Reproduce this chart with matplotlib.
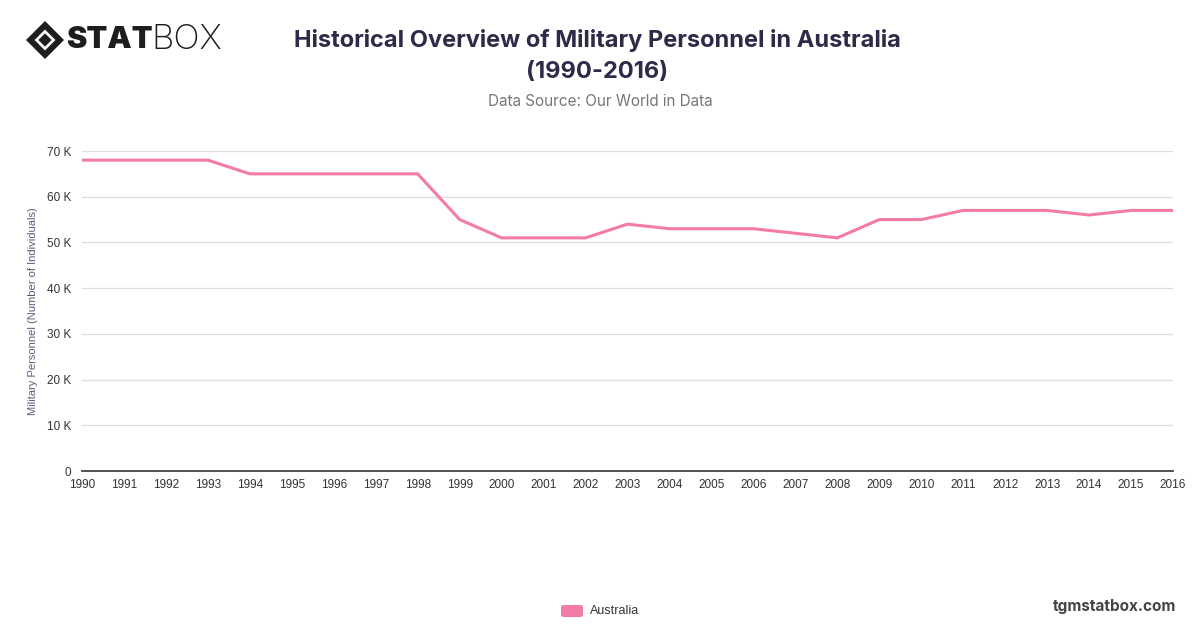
import matplotlib
matplotlib.use("Agg")
import matplotlib.pyplot as plt
from matplotlib.patches import FancyBboxPatch, Polygon
from matplotlib.ticker import FuncFormatter

years = list(range(1990, 2017))
personnel = [68000, 68000, 68000, 68000, 65000, 65000, 65000, 65000, 65000,
             55000, 51000, 51000, 51000, 54000, 53000, 53000, 53000, 52000,
             51000, 55000, 55000, 57000, 57000, 57000, 56000, 57000, 57000]
series_name = "Australia"

plt.rcParams['font.family'] = ['Inter', 'DejaVu Sans']
tick_font = ['Liberation Sans', 'DejaVu Sans']

fig = plt.figure(figsize=(12, 6.28), dpi=100)
ax = fig.add_axes([82 / 1200, 1 - 471 / 628, (1173 - 82) / 1200, (471 - 151) / 628])

line_color = '#f47ba7'
ax.plot(years, personnel, color=line_color, linewidth=2.2, solid_joinstyle='miter', zorder=3)

ax.set_xlim(1990, 2016)
ax.set_ylim(0, 70000)
ax.set_xticks(years)
ax.set_yticks(range(0, 70001, 10000))
ax.yaxis.set_major_formatter(FuncFormatter(lambda v, p: '0' if v == 0 else f'{int(v / 1000)} K'))
ax.tick_params(axis='both', length=0, labelsize=8.5, colors='#333333')
ax.tick_params(axis='x', pad=6)
ax.tick_params(axis='y', pad=8)
for lab in ax.get_xticklabels() + ax.get_yticklabels():
    lab.set_family(tick_font)
ax.grid(axis='y', color='#dddddd', linewidth=0.9)
ax.set_axisbelow(True)
for s in ['top', 'right', 'left']:
    ax.spines[s].set_visible(False)
ax.spines['bottom'].set_color('#444444')
ax.spines['bottom'].set_linewidth(1.3)

fig.text(33 / 1200, 1 - 311 / 628, 'Military Personnel (Number of Individuals)', rotation=90,
         ha='center', va='center', fontsize=8, color='#5d5a7a', family=tick_font)

# titles
fig.text(597 / 1200, 1 - 40 / 628, 'Historical Overview of Military Personnel in Australia',
         ha='center', va='center', fontsize=17, fontweight='bold', color='#2e2a48')
fig.text(597 / 1200, 1 - 72 / 628, '(1990-2016)',
         ha='center', va='center', fontsize=17, fontweight='bold', color='#2e2a48')
fig.text(600 / 1200, 1 - 101 / 628, 'Data Source: Our World in Data',
         ha='center', va='center', fontsize=11, color='#777777')

# logo
cx, cy = 45 / 1200, 1 - 40 / 628
dx, dy = 19 / 1200, 19 / 628
fig.patches.append(Polygon([[cx - dx, cy], [cx, cy + dy], [cx + dx, cy], [cx, cy - dy]],
                           closed=True, transform=fig.transFigure, facecolor='#1d1d1d'))
fig.patches.append(Polygon([[cx - dx * 0.55, cy], [cx, cy + dy * 0.55], [cx + dx * 0.55, cy], [cx, cy - dy * 0.55]],
                           closed=True, transform=fig.transFigure, facecolor='white'))
fig.patches.append(Polygon([[cx - dx * 0.35, cy], [cx, cy + dy * 0.35], [cx + dx * 0.35, cy], [cx, cy - dy * 0.35]],
                           closed=True, transform=fig.transFigure, facecolor='#1d1d1d'))
fig.text(66 / 1200, cy, 'STAT', ha='left', va='center', fontsize=22, fontweight='black', color='#1d1d1d')
fig.text(151 / 1200, cy, 'BOX', ha='left', va='center', fontsize=25, fontweight='light', color='#1d1d1d')

# legend
fig.patches.append(FancyBboxPatch((561 / 1200, 1 - 617 / 628), 22 / 1200, 12 / 628,
                                  boxstyle='round,pad=0,rounding_size=0.003',
                                  transform=fig.transFigure, facecolor=line_color, edgecolor='none'))
fig.text(590 / 1200, 1 - 611 / 628, series_name, ha='left', va='center', fontsize=9,
         color='#333333', family=tick_font)

fig.text(1176 / 1200, 1 - 606 / 628, 'tgmstatbox.com', ha='right', va='center',
         fontsize=11, fontweight='bold', color='#444444')

fig.savefig('out.png', dpi=100)
